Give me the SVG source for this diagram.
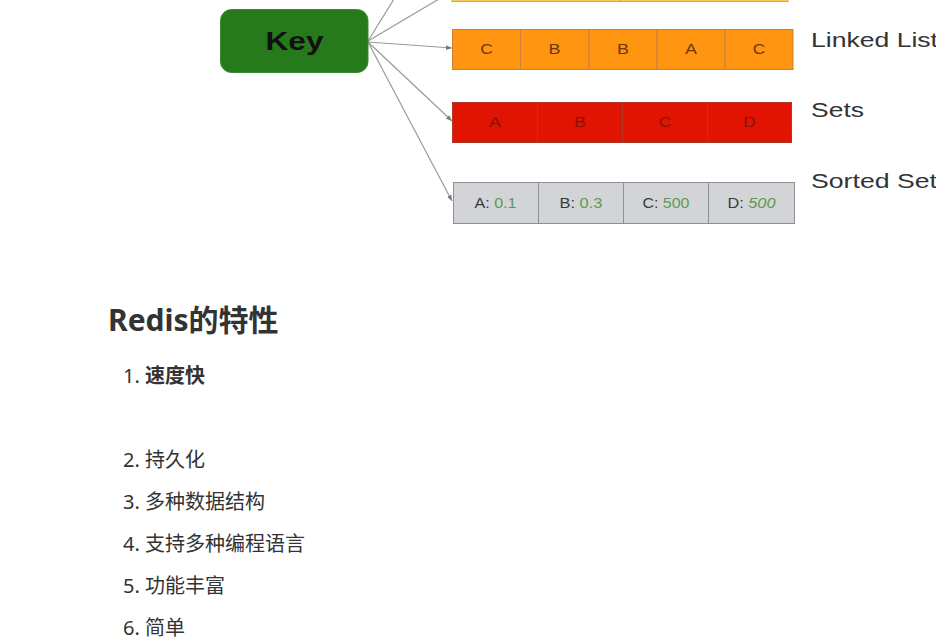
<svg xmlns="http://www.w3.org/2000/svg" width="936" height="642" viewBox="0 0 936 642">
<style>
.cell-o{fill:#ff9511;stroke:#c8823a;stroke-width:1}
.cell-r{fill:#e01400;stroke:#b03a2a;stroke-width:1}
.cell-g{fill:#d2d4d7;stroke:#8e9194;stroke-width:1}
.cell-y{fill:#f6c85e;stroke:#d6a84c;stroke-width:1}
.ct{font-family:"Liberation Sans",Arial,sans-serif;font-size:14px;text-anchor:middle}
.to{fill:#6b3a08}
.tr{fill:#8c1206}
.tg{fill:#3a3a3a}
.num{fill:#5f9a52}
.lbl{font-family:"Liberation Sans",Arial,sans-serif;font-size:20px;fill:#333}
.conn{stroke:#9a9a9a;stroke-width:1.2;fill:none}
.li{font-family:"Noto Sans","Noto Sans CJK SC",sans-serif;font-size:20px;fill:#333}
</style>
<defs>
<marker id="ah" viewBox="0 0 10 10" refX="10" refY="5" markerWidth="6" markerHeight="6" orient="auto" markerUnits="userSpaceOnUse">
<path d="M0,1 L10,5 L0,9 z" fill="#7a7a7a"/>
</marker>
</defs>
<rect width="936" height="642" fill="#ffffff"/>

<g id="connectors">
<line class="conn" x1="368" y1="41" x2="394" y2="-1"/>
<line class="conn" x1="368" y1="41" x2="439" y2="-1"/>
<line class="conn" x1="368" y1="42" x2="452" y2="48" marker-end="url(#ah)"/>
<line class="conn" x1="368" y1="42" x2="452" y2="121" marker-end="url(#ah)"/>
<line class="conn" x1="368" y1="42" x2="452" y2="201" marker-end="url(#ah)"/>
</g>

<g id="key">
<rect x="220.5" y="9.5" width="147.5" height="63" rx="11" fill="#277a1b" stroke="#3b8a2d" stroke-width="1"/>
<text x="294.5" y="50" font-family="Liberation Sans,Arial,sans-serif" font-weight="bold" font-size="26" text-anchor="middle" fill="#111" textLength="58" lengthAdjust="spacingAndGlyphs">Key</text>
</g>

<g id="top-box">
<rect class="cell-y" x="452" y="-20" width="168" height="21.5"/>
<rect class="cell-y" x="620" y="-20" width="168" height="21.5"/>
</g>

<g id="linked-list">
<rect class="cell-o" x="452.5" y="29.5" width="68" height="40"/>
<rect class="cell-o" x="520.5" y="29.5" width="68.5" height="40"/>
<rect class="cell-o" x="589" y="29.5" width="68" height="40"/>
<rect class="cell-o" x="657" y="29.5" width="68" height="40"/>
<rect class="cell-o" x="725" y="29.5" width="68" height="40"/>
<text class="ct to" x="486.5" y="54" textLength="12.5" lengthAdjust="spacingAndGlyphs">C</text>
<text class="ct to" x="554.5" y="54" textLength="12" lengthAdjust="spacingAndGlyphs">B</text>
<text class="ct to" x="623" y="54" textLength="12" lengthAdjust="spacingAndGlyphs">B</text>
<text class="ct to" x="691" y="54" textLength="12" lengthAdjust="spacingAndGlyphs">A</text>
<text class="ct to" x="759" y="54" textLength="12.5" lengthAdjust="spacingAndGlyphs">C</text>
<text class="lbl" x="811" y="47" textLength="127" lengthAdjust="spacingAndGlyphs">Linked List</text>
</g>

<g id="sets">
<rect class="cell-r" x="452.5" y="102.5" width="85" height="40"/>
<rect class="cell-r" x="537.5" y="102.5" width="85" height="40"/>
<rect class="cell-r" x="622.5" y="102.5" width="85" height="40"/>
<rect class="cell-r" x="707.5" y="102.5" width="84" height="40"/>
<text class="ct tr" x="495" y="127" textLength="12" lengthAdjust="spacingAndGlyphs">A</text>
<text class="ct tr" x="580" y="127" textLength="12" lengthAdjust="spacingAndGlyphs">B</text>
<text class="ct tr" x="665" y="127" textLength="12.5" lengthAdjust="spacingAndGlyphs">C</text>
<text class="ct tr" x="749.5" y="127" textLength="12.5" lengthAdjust="spacingAndGlyphs">D</text>
<text class="lbl" x="811" y="117" textLength="53" lengthAdjust="spacingAndGlyphs">Sets</text>
</g>

<g id="sorted-set">
<rect class="cell-g" x="453.5" y="182.5" width="85" height="41"/>
<rect class="cell-g" x="538.5" y="182.5" width="85" height="41"/>
<rect class="cell-g" x="623.5" y="182.5" width="85" height="41"/>
<rect class="cell-g" x="708.5" y="182.5" width="86" height="41"/>
<text class="ct tg" x="495.5" y="208" textLength="42" lengthAdjust="spacingAndGlyphs">A: <tspan class="num">0.1</tspan></text>
<text class="ct tg" x="581" y="208" textLength="43" lengthAdjust="spacingAndGlyphs">B: <tspan class="num">0.3</tspan></text>
<text class="ct tg" x="666" y="208" textLength="47" lengthAdjust="spacingAndGlyphs">C: <tspan class="num">500</tspan></text>
<text class="ct tg" x="751.5" y="208" textLength="48" lengthAdjust="spacingAndGlyphs">D: <tspan class="num" font-style="italic">500</tspan></text>
<text class="lbl" x="811" y="188" textLength="126" lengthAdjust="spacingAndGlyphs">Sorted Set</text>
</g>

<g id="features">
<text x="108" y="331" font-family="Noto Sans,Noto Sans CJK SC,sans-serif" font-weight="bold" font-size="30" fill="#333">Redis的特性</text>
<text class="li" x="123" y="383">1. <tspan font-weight="bold">速度快</tspan></text>
<text class="li" x="123" y="467">2. 持久化</text>
<text class="li" x="123" y="509">3. 多种数据结构</text>
<text class="li" x="123" y="551">4. 支持多种编程语言</text>
<text class="li" x="123" y="593">5. 功能丰富</text>
<text class="li" x="123" y="635">6. 简单</text>
</g>
</svg>
